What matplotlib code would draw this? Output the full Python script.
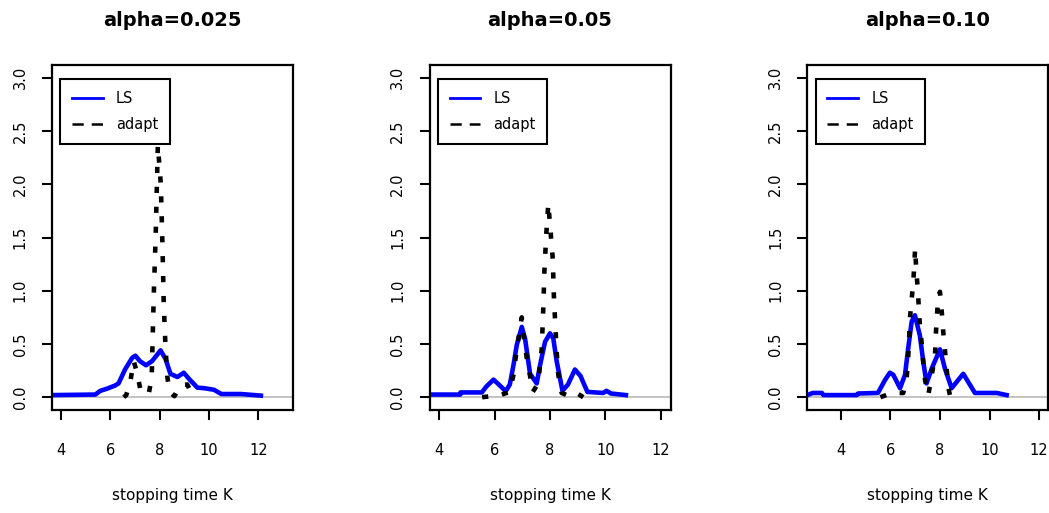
import matplotlib
matplotlib.use("Agg")
import matplotlib.pyplot as plt
from matplotlib.lines import Line2D

# titles of the three panels
titles = ['alpha=0.025', 'alpha=0.05', 'alpha=0.10']

# LS density curves (stopping time K, density)
ls_k1 = [3.65, 5.4, 5.6, 5.87, 6.2, 6.34, 6.6, 6.89, 7.02, 7.2, 7.45, 7.7, 8.04, 8.24, 8.44,
         8.72, 8.98, 9.2, 9.53, 9.8, 10.2, 10.5, 11.3, 12.1]
ls_d1 = [0.02, 0.025, 0.06, 0.08, 0.11, 0.13, 0.26, 0.37, 0.39, 0.34, 0.30, 0.34, 0.44, 0.36, 0.22,
         0.19, 0.23, 0.17, 0.09, 0.085, 0.07, 0.03, 0.03, 0.015]
ls_k2 = [3.65, 4.76, 4.77, 5.54, 5.7, 5.96, 6.15, 6.4, 6.55, 6.68, 6.8, 6.98, 7.1, 7.28, 7.52,
         7.64, 7.82, 8.0, 8.12, 8.24, 8.45, 8.65, 8.9, 9.1, 9.35, 9.92, 10.04, 10.2, 10.74]
ls_d2 = [0.025, 0.025, 0.045, 0.045, 0.1, 0.165, 0.12, 0.056, 0.12, 0.3, 0.49, 0.66, 0.55, 0.22, 0.13,
         0.3, 0.52, 0.6, 0.55, 0.34, 0.06, 0.12, 0.26, 0.2, 0.05, 0.04, 0.06, 0.035, 0.02]
ls_k3 = [2.65, 2.87, 3.24, 3.3, 4.65, 4.7, 5.5, 5.78, 5.98, 6.12, 6.39, 6.59, 6.72, 6.86, 6.99,
         7.19, 7.33, 7.46, 7.67, 8.0, 8.2, 8.47, 8.94, 9.41, 10.29, 10.69]
ls_d3 = [0.02, 0.04, 0.04, 0.02, 0.02, 0.035, 0.04, 0.16, 0.23, 0.21, 0.085, 0.21, 0.46, 0.71, 0.77,
         0.58, 0.33, 0.13, 0.27, 0.45, 0.27, 0.085, 0.22, 0.04, 0.04, 0.02]

# adapt density curves
ad_k1 = [6.55, 6.65, 6.82, 6.95, 7.09, 7.22, 7.4, 7.56, 7.68, 7.72, 7.77, 7.84, 7.93, 8.05, 8.12,
         8.17, 8.24, 8.31, 8.4, 8.6, 8.85, 9.12, 9.35]
ad_d1 = [0.0, 0.02, 0.15, 0.34, 0.23, 0.075, 0.03, 0.03, 0.18, 0.55, 1.0, 1.5, 2.37, 2.0, 1.4,
         0.86, 0.47, 0.2, 0.05, 0.01, 0.11, 0.12, 0.01]
ad_k2 = [5.55, 6.2, 6.55, 6.68, 6.8, 6.98, 7.05, 7.16, 7.28, 7.38, 7.55, 7.6, 7.7, 7.76, 7.8,
         7.87, 7.94, 8.0, 8.1, 8.14, 8.18, 8.24, 8.3, 8.42, 8.7, 8.96, 9.2]
ad_d2 = [0.0, 0.02, 0.05, 0.21, 0.45, 0.75, 0.57, 0.37, 0.2, 0.05, 0.12, 0.2, 0.45, 0.85, 1.2,
         1.55, 1.82, 1.62, 1.3, 0.95, 0.74, 0.43, 0.21, 0.04, 0.01, 0.04, 0.0]
ad_k3 = [5.6, 6.05, 6.52, 6.66, 6.72, 6.76, 6.79, 6.86, 6.93, 7.0, 7.04, 7.1, 7.19, 7.27, 7.33,
         7.4, 7.53, 7.67, 7.8, 7.83, 7.87, 7.93, 8.0, 8.07, 8.13, 8.27, 8.33, 8.42]
ad_d3 = [0.0, 0.04, 0.04, 0.19, 0.38, 0.57, 0.74, 0.92, 1.1, 1.40, 1.21, 1.03, 0.68, 0.49, 0.32,
         0.16, 0.02, 0.21, 0.38, 0.57, 0.74, 0.93, 0.99, 0.81, 0.62, 0.27, 0.1, 0.0]

xlims = [(3.646, 13.40), (3.65, 12.35), (2.65, 12.37)]
xticks = [4, 6, 8, 10, 12]
yticks = [0.0, 0.5, 1.0, 1.5, 2.0, 2.5, 3.0]

ls_k = [ls_k1, ls_k2, ls_k3]
ls_d = [ls_d1, ls_d2, ls_d3]
ad_k = [ad_k1, ad_k2, ad_k3]
ad_d = [ad_d1, ad_d2, ad_d3]

W, H = 1049, 513
fig = plt.figure(figsize=(W / 100, H / 100), dpi=100)

lefts = [52, 429.5, 807.3]
for i in range(3):
    ax = fig.add_axes([lefts[i] / W, (H - 410) / H, 241 / W, 345 / H])

    ax.axhline(0, color='#bebebe', lw=1.3, zorder=1)
    ax.plot(ls_k[i], ls_d[i], color='#0000ff', lw=3.3, zorder=2)
    ax.plot(ad_k[i], ad_d[i], color='black', lw=3.3, linestyle=(0, (1.35, 3.0)),
            dash_capstyle='butt', zorder=3)

    ax.set_xlim(*xlims[i])
    ax.set_ylim(-0.12, 3.12)
    ax.set_xticks(xticks)
    ax.set_yticks(yticks)
    ax.set_yticklabels(['%.1f' % v for v in yticks])
    for lab in ax.get_yticklabels():
        lab.set_rotation(90)
        lab.set_va('center')
    ax.tick_params(axis='both', labelsize=10.5, length=7.5, width=1.5, direction='out')
    ax.tick_params(axis='x', pad=16)
    ax.tick_params(axis='y', pad=10)
    for sp in ax.spines.values():
        sp.set_linewidth(1.6)

    ax.set_title(titles[i], fontsize=14, fontweight='bold', pad=28)
    ax.set_xlabel('stopping time K', fontsize=11, labelpad=22)

    handles = [Line2D([], [], color='#0000ff', lw=2),
               Line2D([], [], color='black', lw=1.8, linestyle=(0, (4.5, 3.2)))]
    leg = ax.legend(handles, ['LS', 'adapt'], loc='upper left',
                    bbox_to_anchor=(0.035, 0.9586), borderaxespad=0, fontsize=10.5,
                    handlelength=2.1, handletextpad=0.9, labelspacing=0.75,
                    borderpad=0.8, fancybox=False, edgecolor='black', framealpha=1)
    leg.get_frame().set_linewidth(1.5)

fig.savefig('out.png', dpi=100)
